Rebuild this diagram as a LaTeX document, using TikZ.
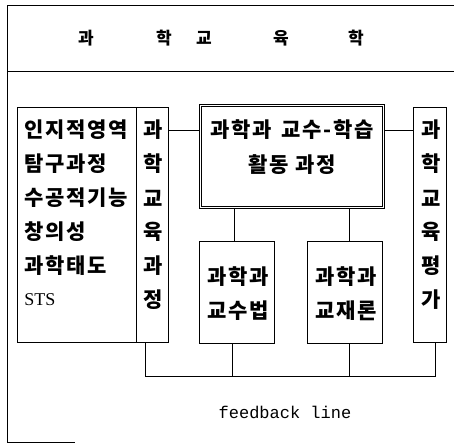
\documentclass[tikz,border=0pt]{standalone}
\usepackage{fontspec}
\newfontfamily\kr[LetterSpace=8]{Noto Sans CJK KR}
\newfontfamily\ser{Liberation Serif}
\newfontfamily\mono{Liberation Mono}
\begin{document}
\begin{tikzpicture}[x=1pt,y=-1pt,line width=0.9pt,
  box/.style={draw,rectangle,inner sep=0pt,anchor=north west},
  kt/.style={font=\kr\bfseries\fontsize{21}{23}\selectfont,inner sep=0pt},
  ht/.style={font=\kr\bfseries\fontsize{17}{19}\selectfont,inner sep=0pt},
  dbl/.style={draw,double,double distance=1.2pt,line width=0.8pt}]
\useasboundingbox (0,0) rectangle (454,443);
% outer frame
\draw (454,5) -- (7,5) -- (7,442) -- (75,442);
\draw (7,71) -- (454,71);
% header
\node[ht] (h1) at (86,38) {과};
\node[ht] (h2) at (164,38) {학};
\node[ht] (h3) at (204,38) {교};
\node[ht] (h4) at (281,38) {육};
\node[ht] (h5) at (356,38) {학};
% boxes
\node[box,minimum width=119pt,minimum height=235pt] (lb) at (17,107) {};
\node[box,minimum width=32pt,minimum height=235pt] (lbcol) at (136,107) {};
\node[box,dbl,minimum width=183pt,minimum height=102pt] (cb) at (200,105) {};
\node[box,minimum width=33pt,minimum height=235pt] (rb) at (413,107) {};
\node[box,minimum width=75pt,minimum height=102pt] (b1) at (199,241) {};
\node[box,minimum width=75pt,minimum height=102pt] (b2) at (307,241) {};
% left texts
\node[kt,anchor=west] (l1) at (24,130) {인지적영역};
\node[kt,anchor=west] (l2) at (24,164) {탐구과정};
\node[kt,anchor=west] (l3) at (24,198) {수공적기능};
\node[kt,anchor=west] (l4) at (24,232) {창의성};
\node[kt,anchor=west] (l5) at (24,266) {과학태도};
\node[font=\ser\fontsize{18}{20}\selectfont,inner sep=0pt,anchor=west] (l6) at (24,300) {STS};
% column texts
\foreach \c [count=\i from 0] in {과,학,교,육,과,정} {
  \node[kt] (c\i) at (153,130+34*\i) {\c};
}
\foreach \c [count=\i from 0] in {과,학,교,육,평,가} {
  \node[kt] (e\i) at (431,130+34*\i) {\c};
}
% center texts
\node[kt] (t1) at (292,130) {과학과\hspace{3pt} 교수-학습};
\node[kt] (t2) at (292,165) {활동 과정};
\node[kt] (m1) at (238,277) {과학과};
\node[kt] (m2) at (238,311) {교수법};
\node[kt] (n1) at (346,277) {과학과};
\node[kt] (n2) at (346,311) {교재론};
% connectors
\coordinate (r1) at (0,130);
\coordinate (fb) at (0,376);
\draw (lbcol.east |- r1) -- (cb.west |- r1);
\draw (cb.east |- r1) -- (rb.west |- r1);
\draw ([xshift=-3pt]b1.north) -- ([xshift=-3pt]b1.north |- cb.south);
\draw ([xshift=4pt]b2.north) -- ([xshift=4pt]b2.north |- cb.south);
\coordinate (fa) at ([xshift=-7pt]lbcol.south);
\coordinate (fe) at ([xshift=5pt]rb.south);
\draw (fa) -- (fa |- fb) -- (fe |- fb) -- (fe);
\draw ([xshift=-5pt]b1.south) -- ([xshift=-5pt]b1.south |- fb);
\draw ([xshift=4pt]b2.south) -- ([xshift=4pt]b2.south |- fb);
\node[font=\mono\fontsize{17}{19}\selectfont,inner sep=0pt] (fl) at (285,412) {feedback line};
\end{tikzpicture}
\end{document}
